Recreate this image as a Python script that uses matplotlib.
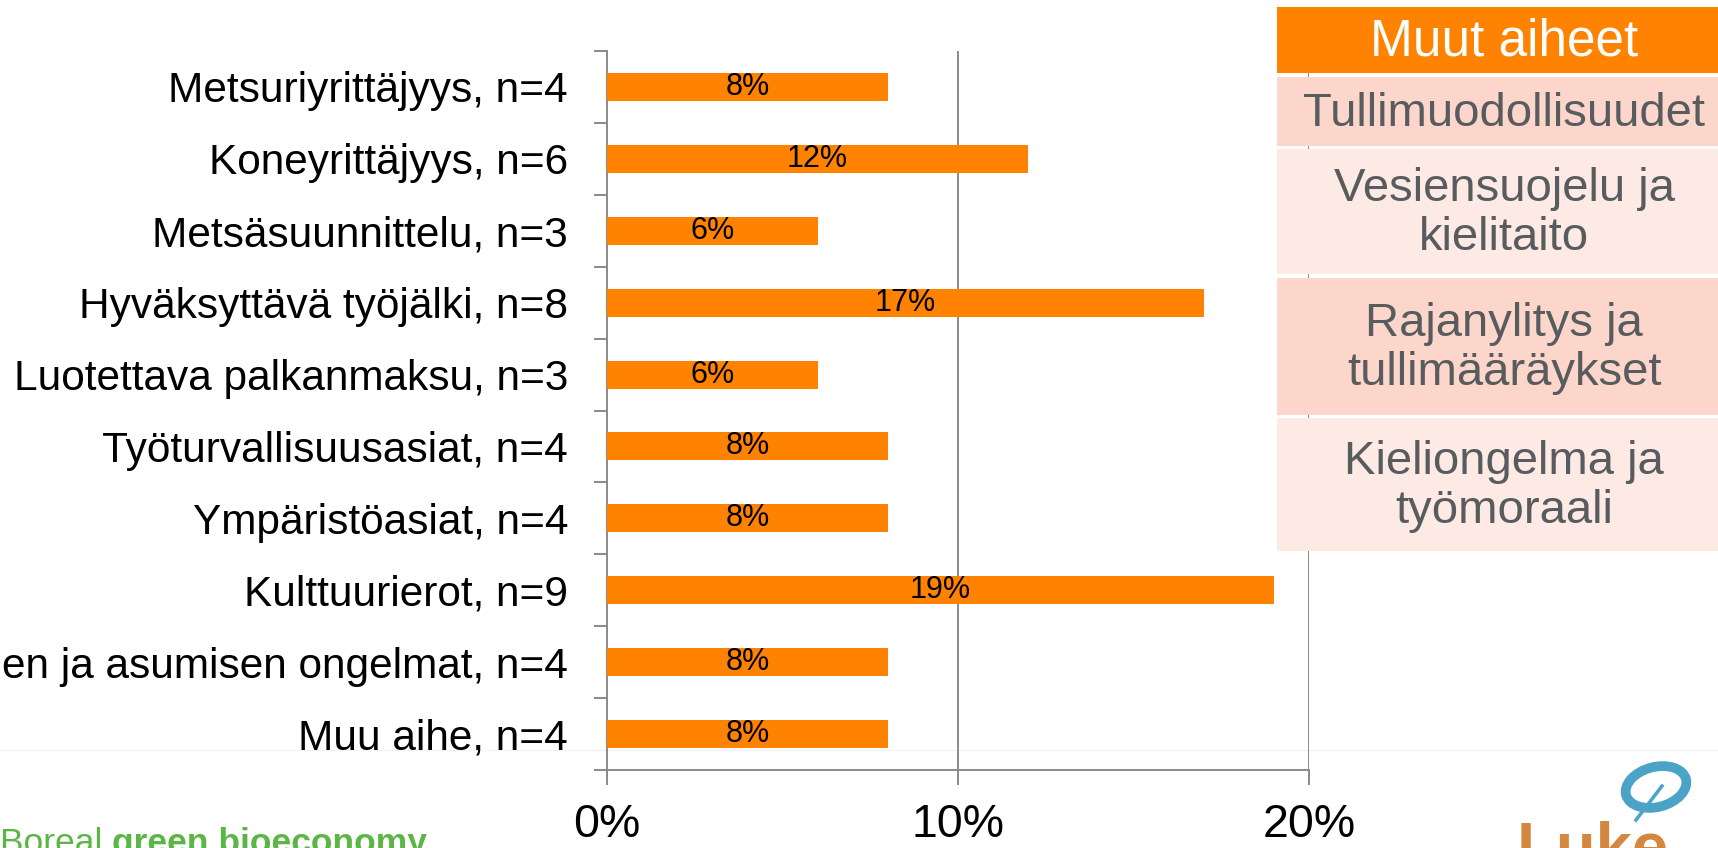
import matplotlib
matplotlib.use("Agg")
import matplotlib.pyplot as plt
from matplotlib.patches import Rectangle, Ellipse
from matplotlib.ticker import FixedLocator

plt.rcParams['font.family'] = ['Liberation Sans', 'DejaVu Sans']

# ---- data ----
categories = [
    "Metsuriyrittäjyys, n=4",
    "Koneyrittäjyys, n=6",
    "Metsäsuunnittelu, n=3",
    "Hyväksyttävä työjälki, n=8",
    "Luotettava palkanmaksu, n=3",
    "Työturvallisuusasiat, n=4",
    "Ympäristöasiat, n=4",
    "Kulttuurierot, n=9",
    "en ja asumisen ongelmat, n=4",
    "Muu aihe, n=4",
]
values = [8, 12, 6, 17, 6, 8, 8, 19, 8, 8]
x_ticks = [0, 10, 20]
x_tick_labels = ["0%", "10%", "20%"]

table_header = "Muut aiheet"
table_rows = [
    "Tullimuodollisuudet",
    "Vesiensuojelu ja\nkielitaito",
    "Rajanylitys ja\ntullimääräykset",
    "Kieliongelma ja\ntyömoraali",
]

# ---- figure ----
W, H = 1718, 848
fig = plt.figure(figsize=(W / 100, H / 100), dpi=100)
fig.patch.set_facecolor("white")

# background overlay axes in pixel coordinates for slide decorations
ov = fig.add_axes([0, 0, 1, 1], zorder=0)
ov.set_xlim(0, W)
ov.set_ylim(H, 0)
ov.axis("off")
ov.patch.set_alpha(0)

GREY = "#8a8a8a"
ORANGE = "#FF8200"

ax = fig.add_axes([607 / W, 1 - 770 / H, (1309 - 607) / W, (770 - 51) / H], zorder=2)
ax.patch.set_alpha(0)

ypos = list(range(len(categories)))
ax.barh(ypos, values, height=0.39, color=ORANGE, zorder=3)
for y, v in zip(ypos, values):
    ax.text(v / 2, y, f"{v}%", ha="center", va="center", fontsize=22,
            color="black", zorder=4)

ax.set_xlim(0, 20)
ax.set_ylim(len(categories) - 0.5, -0.5)

ax.set_yticks(ypos)
ax.set_yticklabels(categories, fontsize=30.5)
ax.yaxis.set_minor_locator(FixedLocator([i - 0.5 for i in range(len(categories) + 1)]))
ax.tick_params(axis="y", which="major", length=0, pad=28, labelcolor="black")
ax.tick_params(axis="y", which="minor", length=9.5, width=1.4, color=GREY, direction="out")

ax.set_xticks(x_ticks)
ax.set_xticklabels(x_tick_labels, fontsize=33.5)
ax.tick_params(axis="x", which="major", length=11, width=1.4, color=GREY,
               direction="out", pad=13, labelcolor="black")

for s in ["top", "right"]:
    ax.spines[s].set_visible(False)
for s in ["left", "bottom"]:
    ax.spines[s].set_color(GREY)
    ax.spines[s].set_linewidth(1.4)

for xv in x_ticks[1:]:
    ax.axvline(xv, color=GREY, lw=1.4, zorder=1)

# ---- table on the right (on top of the chart axes) ----
tb = fig.add_axes([0, 0, 1, 1], zorder=5)
tb.set_xlim(0, W)
tb.set_ylim(H, 0)
tb.axis("off")
tb.patch.set_alpha(0)

tab_left = 1277
tab_right = 1740
text_cx = 1504
header_box = (7, 73)
row_boxes = [(77, 146), (149, 274), (278, 415), (418, 551)]
row_colors = ["#FCD6CA", "#FDEAE4", "#FCD6CA", "#FDEAE4"]

tb.add_patch(Rectangle((tab_left, header_box[0]), tab_right - tab_left,
                       header_box[1] - header_box[0], color=ORANGE, lw=0))
tb.text(text_cx, (header_box[0] + header_box[1]) / 2 + 2, table_header,
        ha="center", va="center", fontsize=37, color="white")
for (t, b), c, txt in zip(row_boxes, row_colors, table_rows):
    tb.add_patch(Rectangle((tab_left, t), tab_right - tab_left, b - t, color=c, lw=0))
    tb.text(text_cx, (t + b) / 2 + 2, txt, ha="center", va="center",
            fontsize=34, color="#585c5e", linespacing=1.15)

# ---- slide decorations ----
ov.plot([0, W], [750, 750], color="#f3f3f3", lw=1, zorder=0)
t1 = ov.text(0, 853, "Boreal ", ha="left", va="baseline", fontsize=25.5,
             color="#5cb646")
fig.canvas.draw()
bb = t1.get_window_extent()
x_after = bb.x1
ov.text(x_after, 853, "green bioeconomy", ha="left", va="baseline",
        fontsize=25.5, fontweight="bold", color="#5cb646")

ov.text(1517, 867, "Luke", ha="left", va="baseline", fontsize=47,
        fontweight="bold", color="#d4883f")
ov.add_patch(Ellipse((1656, 787), 62, 40, angle=-15, fill=False,
                     ec="#4ba3c8", lw=7))
ov.plot([1662, 1636], [786, 820], color="#4ba3c8", lw=2.5)

fig.savefig("out.png", dpi=100, facecolor="white")
